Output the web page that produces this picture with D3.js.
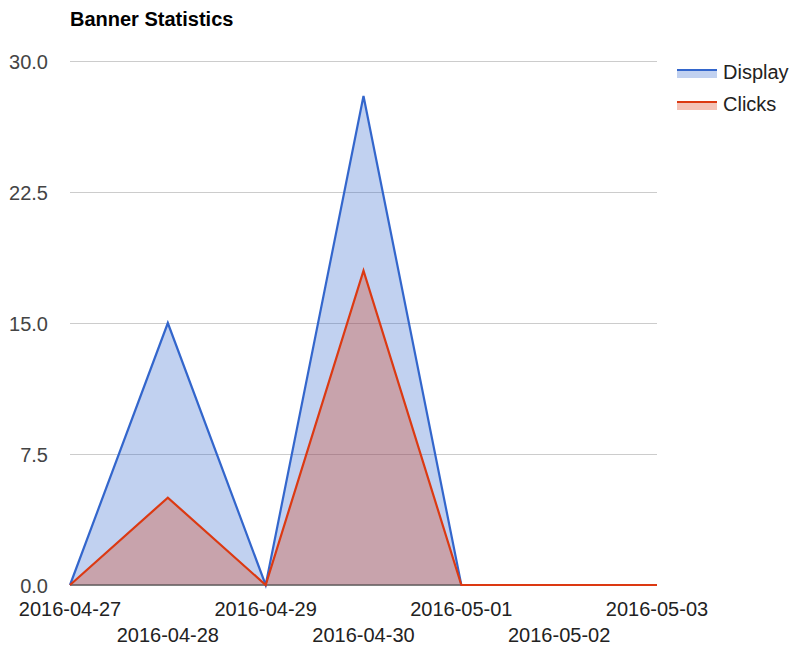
<!DOCTYPE html>
<html>
<head>
<meta charset="utf-8">
<script src="https://cdn.jsdelivr.net/npm/d3@7"></script>
<style>
  body { margin: 0; background: #fff; }
  text { font-family: "Liberation Sans", Arial, sans-serif; }
</style>
</head>
<body>
<div id="chart"></div>
<script>
var dates = ["2016-04-27", "2016-04-28", "2016-04-29", "2016-04-30", "2016-05-01", "2016-05-02", "2016-05-03"]
var display = [0, 15, 0, 28, 0, 0, 0]
var clicks = [0, 5, 0, 18, 0, 0, 0]
var yTicks = [0, 7.5, 15, 22.5, 30]
var seriesNames = ["Display", "Clicks"]
var colors = ["#3366cc", "#dc3912"]

var width = 793
var height = 650
var margin = {top: 61, right: 136, bottom: 65, left: 70}

var svg = d3.select("#chart")
  .append("svg")
  .attr("width", width)
  .attr("height", height)

var x = d3.scalePoint()
  .domain(dates)
  .range([margin.left, width - margin.right])

var y = d3.scaleLinear()
  .domain([0, 30])
  .range([height - margin.bottom, margin.top])

// title
svg.append("text")
  .attr("x", 70)
  .attr("y", 26)
  .style("font-size", "20px")
  .style("font-weight", "bold")
  .attr("fill", "#000")
  .text("Banner Statistics")

// gridlines + y labels
var yAxis = d3.axisLeft(y)
  .tickValues(yTicks)
  .tickSize(-(width - margin.right - margin.left))
  .tickPadding(22)
  .tickFormat(d3.format(".1f"))

var gy = svg.append("g")
  .attr("transform", "translate(" + margin.left + ",0)")
  .call(yAxis)
gy.select(".domain").remove()
gy.selectAll("line").attr("stroke", "#cccccc")
gy.selectAll("text")
  .attr("fill", "#444")
  .style("font-size", "20px")
  .attr("dy", "0.35em")

// x labels, alternating rows
var gx = svg.append("g")
gx.selectAll("text")
  .data(dates)
  .enter()
  .append("text")
  .attr("x", function(d) { return x(d) })
  .attr("y", function(d, i) { return i % 2 == 0 ? 616 : 642 })
  .attr("text-anchor", "middle")
  .attr("fill", "#222")
  .style("font-size", "20px")
  .text(function(d) { return d })

var series = [display, clicks]

series.forEach(function(vals, k) {
  var area = d3.area()
    .x(function(d, i) { return x(dates[i]) })
    .y0(y(0))
    .y1(function(d) { return y(d) })
  svg.append("path")
    .datum(vals)
    .attr("d", area)
    .attr("fill", colors[k])
    .attr("fill-opacity", 0.3)
})

// baseline
svg.append("line")
  .attr("x1", margin.left)
  .attr("x2", width - margin.right)
  .attr("y1", y(0))
  .attr("y2", y(0))
  .attr("stroke", "#333")
  .attr("stroke-width", 1)

series.forEach(function(vals, k) {
  var line = d3.line()
    .x(function(d, i) { return x(dates[i]) })
    .y(function(d) { return y(d) })
  svg.append("path")
    .datum(vals)
    .attr("d", line)
    .attr("fill", "none")
    .attr("stroke", colors[k])
    .attr("stroke-width", 2.2)
})

// legend
var legend = svg.append("g")
seriesNames.forEach(function(name, k) {
  var ly = 70 + k * 32
  legend.append("rect")
    .attr("x", 677)
    .attr("y", ly)
    .attr("width", 40)
    .attr("height", 8)
    .attr("fill", colors[k])
    .attr("fill-opacity", 0.3)
  legend.append("line")
    .attr("x1", 677)
    .attr("x2", 717)
    .attr("y1", ly)
    .attr("y2", ly)
    .attr("stroke", colors[k])
    .attr("stroke-width", 2.2)
  legend.append("text")
    .attr("x", 723)
    .attr("y", ly + 2)
    .attr("dy", "0.35em")
    .attr("fill", "#222")
    .style("font-size", "20px")
    .text(name)
})
</script>
</body>
</html>
